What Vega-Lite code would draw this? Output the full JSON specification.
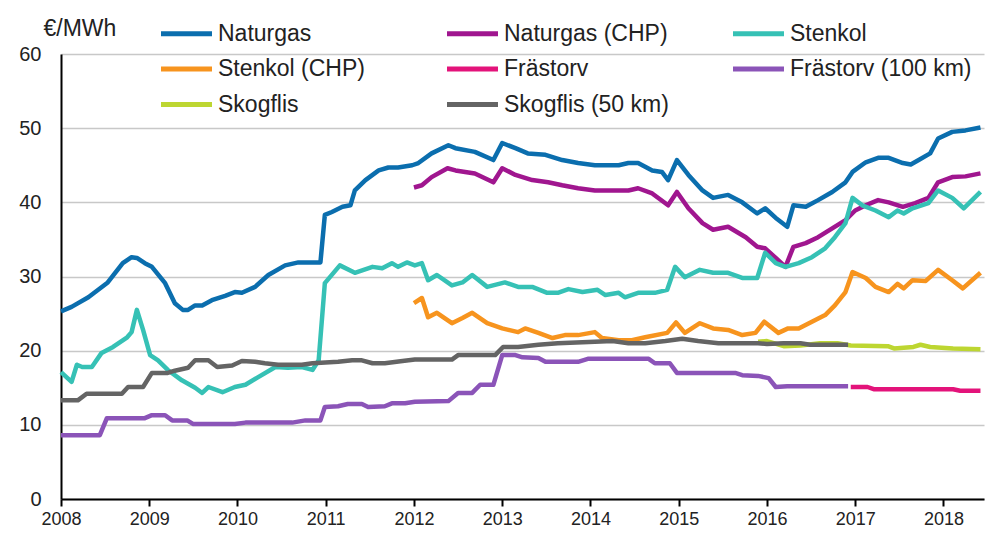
{
"$schema": "https://vega.github.io/schema/vega-lite/v6.json",
"width": 923, "height": 445,
"autosize": {"type": "none"},
"padding": {"left": 61, "top": 54, "right": 2, "bottom": 35},
"background": "white",
"config": {"view": {"stroke": null}, "font": "Liberation Sans"},
"data": {"values": [
{"s":"Naturgas","t":2008.0,"v":25.3},{"s":"Naturgas","t":2008.12,"v":25.9},{"s":"Naturgas","t":2008.31,"v":27.2},{"s":"Naturgas","t":2008.53,"v":29.2},{"s":"Naturgas","t":2008.7,"v":31.8},{"s":"Naturgas","t":2008.8,"v":32.6},{"s":"Naturgas","t":2008.86,"v":32.5},{"s":"Naturgas","t":2008.95,"v":31.8},{"s":"Naturgas","t":2009.03,"v":31.3},{"s":"Naturgas","t":2009.18,"v":29.1},{"s":"Naturgas","t":2009.29,"v":26.4},{"s":"Naturgas","t":2009.38,"v":25.5},{"s":"Naturgas","t":2009.44,"v":25.5},{"s":"Naturgas","t":2009.52,"v":26.1},{"s":"Naturgas","t":2009.6,"v":26.1},{"s":"Naturgas","t":2009.71,"v":26.8},{"s":"Naturgas","t":2009.86,"v":27.4},{"s":"Naturgas","t":2009.97,"v":27.9},{"s":"Naturgas","t":2010.05,"v":27.8},{"s":"Naturgas","t":2010.2,"v":28.6},{"s":"Naturgas","t":2010.35,"v":30.2},{"s":"Naturgas","t":2010.54,"v":31.5},{"s":"Naturgas","t":2010.69,"v":31.9},{"s":"Naturgas","t":2010.94,"v":31.9},{"s":"Naturgas","t":2010.99,"v":38.3},{"s":"Naturgas","t":2011.07,"v":38.7},{"s":"Naturgas","t":2011.19,"v":39.4},{"s":"Naturgas","t":2011.28,"v":39.6},{"s":"Naturgas","t":2011.33,"v":41.6},{"s":"Naturgas","t":2011.45,"v":43.0},{"s":"Naturgas","t":2011.6,"v":44.3},{"s":"Naturgas","t":2011.71,"v":44.7},{"s":"Naturgas","t":2011.82,"v":44.7},{"s":"Naturgas","t":2011.98,"v":45.0},{"s":"Naturgas","t":2012.05,"v":45.3},{"s":"Naturgas","t":2012.2,"v":46.6},{"s":"Naturgas","t":2012.39,"v":47.7},{"s":"Naturgas","t":2012.47,"v":47.3},{"s":"Naturgas","t":2012.69,"v":46.8},{"s":"Naturgas","t":2012.9,"v":45.7},{"s":"Naturgas","t":2013.0,"v":48.0},{"s":"Naturgas","t":2013.15,"v":47.3},{"s":"Naturgas","t":2013.29,"v":46.6},{"s":"Naturgas","t":2013.49,"v":46.4},{"s":"Naturgas","t":2013.68,"v":45.7},{"s":"Naturgas","t":2013.86,"v":45.3},{"s":"Naturgas","t":2014.05,"v":45.0},{"s":"Naturgas","t":2014.32,"v":45.0},{"s":"Naturgas","t":2014.43,"v":45.3},{"s":"Naturgas","t":2014.54,"v":45.3},{"s":"Naturgas","t":2014.7,"v":44.3},{"s":"Naturgas","t":2014.81,"v":44.1},{"s":"Naturgas","t":2014.88,"v":43.0},{"s":"Naturgas","t":2014.98,"v":45.7},{"s":"Naturgas","t":2015.11,"v":43.7},{"s":"Naturgas","t":2015.27,"v":41.6},{"s":"Naturgas","t":2015.39,"v":40.6},{"s":"Naturgas","t":2015.56,"v":41.0},{"s":"Naturgas","t":2015.72,"v":40.0},{"s":"Naturgas","t":2015.89,"v":38.5},{"s":"Naturgas","t":2015.98,"v":39.2},{"s":"Naturgas","t":2016.1,"v":37.9},{"s":"Naturgas","t":2016.23,"v":36.7},{"s":"Naturgas","t":2016.3,"v":39.6},{"s":"Naturgas","t":2016.44,"v":39.4},{"s":"Naturgas","t":2016.58,"v":40.3},{"s":"Naturgas","t":2016.74,"v":41.4},{"s":"Naturgas","t":2016.89,"v":42.7},{"s":"Naturgas","t":2016.97,"v":44.1},{"s":"Naturgas","t":2017.12,"v":45.4},{"s":"Naturgas","t":2017.26,"v":46.0},{"s":"Naturgas","t":2017.38,"v":46.0},{"s":"Naturgas","t":2017.54,"v":45.3},{"s":"Naturgas","t":2017.63,"v":45.1},{"s":"Naturgas","t":2017.72,"v":45.7},{"s":"Naturgas","t":2017.85,"v":46.6},{"s":"Naturgas","t":2017.94,"v":48.6},{"s":"Naturgas","t":2018.1,"v":49.5},{"s":"Naturgas","t":2018.25,"v":49.7},{"s":"Naturgas","t":2018.42,"v":50.1},
{"s":"Naturgas (CHP)","t":2012.0,"v":42.0},{"s":"Naturgas (CHP)","t":2012.09,"v":42.3},{"s":"Naturgas (CHP)","t":2012.2,"v":43.4},{"s":"Naturgas (CHP)","t":2012.38,"v":44.6},{"s":"Naturgas (CHP)","t":2012.47,"v":44.3},{"s":"Naturgas (CHP)","t":2012.69,"v":43.9},{"s":"Naturgas (CHP)","t":2012.9,"v":42.7},{"s":"Naturgas (CHP)","t":2013.0,"v":44.6},{"s":"Naturgas (CHP)","t":2013.15,"v":43.7},{"s":"Naturgas (CHP)","t":2013.34,"v":43.0},{"s":"Naturgas (CHP)","t":2013.52,"v":42.7},{"s":"Naturgas (CHP)","t":2013.68,"v":42.3},{"s":"Naturgas (CHP)","t":2013.86,"v":41.9},{"s":"Naturgas (CHP)","t":2014.05,"v":41.6},{"s":"Naturgas (CHP)","t":2014.43,"v":41.6},{"s":"Naturgas (CHP)","t":2014.54,"v":41.9},{"s":"Naturgas (CHP)","t":2014.7,"v":41.2},{"s":"Naturgas (CHP)","t":2014.88,"v":39.6},{"s":"Naturgas (CHP)","t":2014.98,"v":41.4},{"s":"Naturgas (CHP)","t":2015.11,"v":39.2},{"s":"Naturgas (CHP)","t":2015.27,"v":37.2},{"s":"Naturgas (CHP)","t":2015.39,"v":36.3},{"s":"Naturgas (CHP)","t":2015.56,"v":36.7},{"s":"Naturgas (CHP)","t":2015.76,"v":35.3},{"s":"Naturgas (CHP)","t":2015.89,"v":34.0},{"s":"Naturgas (CHP)","t":2015.98,"v":33.8},{"s":"Naturgas (CHP)","t":2016.1,"v":32.5},{"s":"Naturgas (CHP)","t":2016.21,"v":31.3},{"s":"Naturgas (CHP)","t":2016.3,"v":34.0},{"s":"Naturgas (CHP)","t":2016.44,"v":34.5},{"s":"Naturgas (CHP)","t":2016.58,"v":35.3},{"s":"Naturgas (CHP)","t":2016.74,"v":36.5},{"s":"Naturgas (CHP)","t":2016.89,"v":37.6},{"s":"Naturgas (CHP)","t":2017.0,"v":38.9},{"s":"Naturgas (CHP)","t":2017.12,"v":39.6},{"s":"Naturgas (CHP)","t":2017.26,"v":40.3},{"s":"Naturgas (CHP)","t":2017.38,"v":40.0},{"s":"Naturgas (CHP)","t":2017.54,"v":39.4},{"s":"Naturgas (CHP)","t":2017.68,"v":39.9},{"s":"Naturgas (CHP)","t":2017.83,"v":40.6},{"s":"Naturgas (CHP)","t":2017.94,"v":42.7},{"s":"Naturgas (CHP)","t":2018.1,"v":43.4},{"s":"Naturgas (CHP)","t":2018.25,"v":43.5},{"s":"Naturgas (CHP)","t":2018.42,"v":43.9},
{"s":"Stenkol","t":2008.0,"v":17.1},{"s":"Stenkol","t":2008.12,"v":15.8},{"s":"Stenkol","t":2008.18,"v":18.1},{"s":"Stenkol","t":2008.24,"v":17.8},{"s":"Stenkol","t":2008.35,"v":17.8},{"s":"Stenkol","t":2008.46,"v":19.7},{"s":"Stenkol","t":2008.59,"v":20.5},{"s":"Stenkol","t":2008.75,"v":21.8},{"s":"Stenkol","t":2008.8,"v":22.5},{"s":"Stenkol","t":2008.86,"v":25.5},{"s":"Stenkol","t":2008.93,"v":22.8},{"s":"Stenkol","t":2009.01,"v":19.4},{"s":"Stenkol","t":2009.1,"v":18.7},{"s":"Stenkol","t":2009.21,"v":17.4},{"s":"Stenkol","t":2009.37,"v":16.0},{"s":"Stenkol","t":2009.52,"v":15.0},{"s":"Stenkol","t":2009.6,"v":14.3},{"s":"Stenkol","t":2009.67,"v":15.1},{"s":"Stenkol","t":2009.83,"v":14.4},{"s":"Stenkol","t":2009.97,"v":15.1},{"s":"Stenkol","t":2010.09,"v":15.4},{"s":"Stenkol","t":2010.23,"v":16.4},{"s":"Stenkol","t":2010.43,"v":17.8},{"s":"Stenkol","t":2010.57,"v":17.7},{"s":"Stenkol","t":2010.73,"v":17.8},{"s":"Stenkol","t":2010.85,"v":17.4},{"s":"Stenkol","t":2010.92,"v":18.7},{"s":"Stenkol","t":2010.99,"v":29.1},{"s":"Stenkol","t":2011.16,"v":31.5},{"s":"Stenkol","t":2011.33,"v":30.5},{"s":"Stenkol","t":2011.53,"v":31.3},{"s":"Stenkol","t":2011.64,"v":31.1},{"s":"Stenkol","t":2011.75,"v":31.8},{"s":"Stenkol","t":2011.82,"v":31.3},{"s":"Stenkol","t":2011.92,"v":31.9},{"s":"Stenkol","t":2012.01,"v":31.5},{"s":"Stenkol","t":2012.09,"v":31.8},{"s":"Stenkol","t":2012.16,"v":29.5},{"s":"Stenkol","t":2012.26,"v":30.2},{"s":"Stenkol","t":2012.43,"v":28.8},{"s":"Stenkol","t":2012.55,"v":29.2},{"s":"Stenkol","t":2012.66,"v":30.2},{"s":"Stenkol","t":2012.83,"v":28.6},{"s":"Stenkol","t":2013.03,"v":29.2},{"s":"Stenkol","t":2013.18,"v":28.6},{"s":"Stenkol","t":2013.34,"v":28.6},{"s":"Stenkol","t":2013.51,"v":27.8},{"s":"Stenkol","t":2013.63,"v":27.8},{"s":"Stenkol","t":2013.75,"v":28.3},{"s":"Stenkol","t":2013.91,"v":27.9},{"s":"Stenkol","t":2014.08,"v":28.2},{"s":"Stenkol","t":2014.17,"v":27.5},{"s":"Stenkol","t":2014.32,"v":27.8},{"s":"Stenkol","t":2014.39,"v":27.2},{"s":"Stenkol","t":2014.54,"v":27.8},{"s":"Stenkol","t":2014.73,"v":27.8},{"s":"Stenkol","t":2014.87,"v":28.2},{"s":"Stenkol","t":2014.96,"v":31.3},{"s":"Stenkol","t":2015.07,"v":29.9},{"s":"Stenkol","t":2015.24,"v":30.9},{"s":"Stenkol","t":2015.39,"v":30.5},{"s":"Stenkol","t":2015.56,"v":30.5},{"s":"Stenkol","t":2015.72,"v":29.8},{"s":"Stenkol","t":2015.89,"v":29.8},{"s":"Stenkol","t":2015.98,"v":33.2},{"s":"Stenkol","t":2016.1,"v":31.8},{"s":"Stenkol","t":2016.21,"v":31.3},{"s":"Stenkol","t":2016.36,"v":31.8},{"s":"Stenkol","t":2016.51,"v":32.6},{"s":"Stenkol","t":2016.66,"v":33.8},{"s":"Stenkol","t":2016.77,"v":35.3},{"s":"Stenkol","t":2016.89,"v":37.2},{"s":"Stenkol","t":2016.97,"v":40.6},{"s":"Stenkol","t":2017.08,"v":39.6},{"s":"Stenkol","t":2017.23,"v":38.9},{"s":"Stenkol","t":2017.38,"v":38.0},{"s":"Stenkol","t":2017.48,"v":38.9},{"s":"Stenkol","t":2017.55,"v":38.5},{"s":"Stenkol","t":2017.65,"v":39.2},{"s":"Stenkol","t":2017.83,"v":39.9},{"s":"Stenkol","t":2017.94,"v":41.6},{"s":"Stenkol","t":2018.1,"v":40.6},{"s":"Stenkol","t":2018.23,"v":39.2},{"s":"Stenkol","t":2018.42,"v":41.4},
{"s":"Stenkol (CHP)","t":2012.0,"v":26.4},{"s":"Stenkol (CHP)","t":2012.09,"v":27.1},{"s":"Stenkol (CHP)","t":2012.16,"v":24.5},{"s":"Stenkol (CHP)","t":2012.26,"v":25.1},{"s":"Stenkol (CHP)","t":2012.43,"v":23.7},{"s":"Stenkol (CHP)","t":2012.55,"v":24.4},{"s":"Stenkol (CHP)","t":2012.66,"v":25.1},{"s":"Stenkol (CHP)","t":2012.83,"v":23.7},{"s":"Stenkol (CHP)","t":2013.0,"v":23.0},{"s":"Stenkol (CHP)","t":2013.18,"v":22.5},{"s":"Stenkol (CHP)","t":2013.26,"v":23.0},{"s":"Stenkol (CHP)","t":2013.41,"v":22.4},{"s":"Stenkol (CHP)","t":2013.57,"v":21.7},{"s":"Stenkol (CHP)","t":2013.71,"v":22.1},{"s":"Stenkol (CHP)","t":2013.86,"v":22.1},{"s":"Stenkol (CHP)","t":2014.05,"v":22.5},{"s":"Stenkol (CHP)","t":2014.13,"v":21.7},{"s":"Stenkol (CHP)","t":2014.32,"v":21.4},{"s":"Stenkol (CHP)","t":2014.47,"v":21.4},{"s":"Stenkol (CHP)","t":2014.62,"v":21.8},{"s":"Stenkol (CHP)","t":2014.87,"v":22.4},{"s":"Stenkol (CHP)","t":2014.97,"v":23.8},{"s":"Stenkol (CHP)","t":2015.07,"v":22.4},{"s":"Stenkol (CHP)","t":2015.24,"v":23.7},{"s":"Stenkol (CHP)","t":2015.39,"v":23.0},{"s":"Stenkol (CHP)","t":2015.56,"v":22.8},{"s":"Stenkol (CHP)","t":2015.72,"v":22.1},{"s":"Stenkol (CHP)","t":2015.87,"v":22.4},{"s":"Stenkol (CHP)","t":2015.97,"v":23.9},{"s":"Stenkol (CHP)","t":2016.13,"v":22.4},{"s":"Stenkol (CHP)","t":2016.24,"v":23.0},{"s":"Stenkol (CHP)","t":2016.36,"v":23.0},{"s":"Stenkol (CHP)","t":2016.51,"v":23.9},{"s":"Stenkol (CHP)","t":2016.66,"v":24.8},{"s":"Stenkol (CHP)","t":2016.77,"v":26.1},{"s":"Stenkol (CHP)","t":2016.89,"v":27.9},{"s":"Stenkol (CHP)","t":2016.97,"v":30.6},{"s":"Stenkol (CHP)","t":2017.12,"v":29.8},{"s":"Stenkol (CHP)","t":2017.23,"v":28.6},{"s":"Stenkol (CHP)","t":2017.38,"v":27.9},{"s":"Stenkol (CHP)","t":2017.48,"v":29.0},{"s":"Stenkol (CHP)","t":2017.55,"v":28.4},{"s":"Stenkol (CHP)","t":2017.65,"v":29.5},{"s":"Stenkol (CHP)","t":2017.8,"v":29.4},{"s":"Stenkol (CHP)","t":2017.94,"v":30.9},{"s":"Stenkol (CHP)","t":2018.1,"v":29.5},{"s":"Stenkol (CHP)","t":2018.22,"v":28.4},{"s":"Stenkol (CHP)","t":2018.42,"v":30.5},
{"s":"Frästorv (100 km)","t":2008.0,"v":8.6},{"s":"Frästorv (100 km)","t":2008.44,"v":8.6},{"s":"Frästorv (100 km)","t":2008.52,"v":10.9},{"s":"Frästorv (100 km)","t":2008.95,"v":10.9},{"s":"Frästorv (100 km)","t":2009.03,"v":11.3},{"s":"Frästorv (100 km)","t":2009.18,"v":11.3},{"s":"Frästorv (100 km)","t":2009.26,"v":10.6},{"s":"Frästorv (100 km)","t":2009.43,"v":10.6},{"s":"Frästorv (100 km)","t":2009.5,"v":10.1},{"s":"Frästorv (100 km)","t":2009.97,"v":10.1},{"s":"Frästorv (100 km)","t":2010.09,"v":10.3},{"s":"Frästorv (100 km)","t":2010.62,"v":10.3},{"s":"Frästorv (100 km)","t":2010.77,"v":10.6},{"s":"Frästorv (100 km)","t":2010.94,"v":10.6},{"s":"Frästorv (100 km)","t":2010.99,"v":12.4},{"s":"Frästorv (100 km)","t":2011.14,"v":12.5},{"s":"Frästorv (100 km)","t":2011.25,"v":12.8},{"s":"Frästorv (100 km)","t":2011.41,"v":12.8},{"s":"Frästorv (100 km)","t":2011.48,"v":12.4},{"s":"Frästorv (100 km)","t":2011.67,"v":12.5},{"s":"Frästorv (100 km)","t":2011.75,"v":12.9},{"s":"Frästorv (100 km)","t":2011.9,"v":12.9},{"s":"Frästorv (100 km)","t":2012.01,"v":13.1},{"s":"Frästorv (100 km)","t":2012.39,"v":13.2},{"s":"Frästorv (100 km)","t":2012.5,"v":14.3},{"s":"Frästorv (100 km)","t":2012.66,"v":14.3},{"s":"Frästorv (100 km)","t":2012.75,"v":15.4},{"s":"Frästorv (100 km)","t":2012.9,"v":15.4},{"s":"Frästorv (100 km)","t":2013.0,"v":19.4},{"s":"Frästorv (100 km)","t":2013.15,"v":19.4},{"s":"Frästorv (100 km)","t":2013.23,"v":19.1},{"s":"Frästorv (100 km)","t":2013.41,"v":19.0},{"s":"Frästorv (100 km)","t":2013.49,"v":18.5},{"s":"Frästorv (100 km)","t":2013.86,"v":18.5},{"s":"Frästorv (100 km)","t":2013.97,"v":18.9},{"s":"Frästorv (100 km)","t":2014.66,"v":18.9},{"s":"Frästorv (100 km)","t":2014.73,"v":18.3},{"s":"Frästorv (100 km)","t":2014.9,"v":18.3},{"s":"Frästorv (100 km)","t":2014.98,"v":17.0},{"s":"Frästorv (100 km)","t":2015.64,"v":17.0},{"s":"Frästorv (100 km)","t":2015.72,"v":16.7},{"s":"Frästorv (100 km)","t":2015.9,"v":16.6},{"s":"Frästorv (100 km)","t":2016.02,"v":16.3},{"s":"Frästorv (100 km)","t":2016.1,"v":15.1},{"s":"Frästorv (100 km)","t":2016.23,"v":15.2},{"s":"Frästorv (100 km)","t":2016.92,"v":15.2},
{"s":"Frästorv","t":2016.95,"v":15.1},{"s":"Frästorv","t":2017.14,"v":15.1},{"s":"Frästorv","t":2017.21,"v":14.8},{"s":"Frästorv","t":2018.11,"v":14.8},{"s":"Frästorv","t":2018.19,"v":14.6},{"s":"Frästorv","t":2018.42,"v":14.6},
{"s":"Skogflis","t":2015.9,"v":21.2},{"s":"Skogflis","t":2016.0,"v":21.3},{"s":"Skogflis","t":2016.19,"v":20.6},{"s":"Skogflis","t":2016.38,"v":20.7},{"s":"Skogflis","t":2016.6,"v":21.0},{"s":"Skogflis","t":2016.8,"v":21.0},{"s":"Skogflis","t":2016.95,"v":20.7},{"s":"Skogflis","t":2017.37,"v":20.6},{"s":"Skogflis","t":2017.44,"v":20.3},{"s":"Skogflis","t":2017.66,"v":20.5},{"s":"Skogflis","t":2017.74,"v":20.8},{"s":"Skogflis","t":2017.85,"v":20.5},{"s":"Skogflis","t":2018.11,"v":20.3},{"s":"Skogflis","t":2018.42,"v":20.2},
{"s":"Skogflis (50 km)","t":2008.0,"v":13.3},{"s":"Skogflis (50 km)","t":2008.19,"v":13.3},{"s":"Skogflis (50 km)","t":2008.29,"v":14.2},{"s":"Skogflis (50 km)","t":2008.69,"v":14.2},{"s":"Skogflis (50 km)","t":2008.76,"v":15.1},{"s":"Skogflis (50 km)","t":2008.93,"v":15.1},{"s":"Skogflis (50 km)","t":2009.03,"v":17.0},{"s":"Skogflis (50 km)","t":2009.21,"v":17.0},{"s":"Skogflis (50 km)","t":2009.29,"v":17.3},{"s":"Skogflis (50 km)","t":2009.44,"v":17.7},{"s":"Skogflis (50 km)","t":2009.52,"v":18.7},{"s":"Skogflis (50 km)","t":2009.67,"v":18.7},{"s":"Skogflis (50 km)","t":2009.77,"v":17.8},{"s":"Skogflis (50 km)","t":2009.94,"v":18.0},{"s":"Skogflis (50 km)","t":2010.05,"v":18.6},{"s":"Skogflis (50 km)","t":2010.2,"v":18.5},{"s":"Skogflis (50 km)","t":2010.31,"v":18.3},{"s":"Skogflis (50 km)","t":2010.46,"v":18.1},{"s":"Skogflis (50 km)","t":2010.73,"v":18.1},{"s":"Skogflis (50 km)","t":2010.85,"v":18.3},{"s":"Skogflis (50 km)","t":2011.14,"v":18.5},{"s":"Skogflis (50 km)","t":2011.3,"v":18.7},{"s":"Skogflis (50 km)","t":2011.41,"v":18.7},{"s":"Skogflis (50 km)","t":2011.53,"v":18.3},{"s":"Skogflis (50 km)","t":2011.67,"v":18.3},{"s":"Skogflis (50 km)","t":2011.87,"v":18.6},{"s":"Skogflis (50 km)","t":2012.01,"v":18.8},{"s":"Skogflis (50 km)","t":2012.43,"v":18.8},{"s":"Skogflis (50 km)","t":2012.5,"v":19.4},{"s":"Skogflis (50 km)","t":2012.92,"v":19.4},{"s":"Skogflis (50 km)","t":2013.01,"v":20.5},{"s":"Skogflis (50 km)","t":2013.18,"v":20.5},{"s":"Skogflis (50 km)","t":2013.41,"v":20.8},{"s":"Skogflis (50 km)","t":2013.63,"v":21.0},{"s":"Skogflis (50 km)","t":2014.05,"v":21.2},{"s":"Skogflis (50 km)","t":2014.25,"v":21.3},{"s":"Skogflis (50 km)","t":2014.43,"v":21.0},{"s":"Skogflis (50 km)","t":2014.62,"v":21.0},{"s":"Skogflis (50 km)","t":2014.85,"v":21.3},{"s":"Skogflis (50 km)","t":2015.04,"v":21.6},{"s":"Skogflis (50 km)","t":2015.22,"v":21.3},{"s":"Skogflis (50 km)","t":2015.45,"v":21.0},{"s":"Skogflis (50 km)","t":2015.9,"v":21.0},{"s":"Skogflis (50 km)","t":2016.0,"v":20.9},{"s":"Skogflis (50 km)","t":2016.19,"v":21.0},{"s":"Skogflis (50 km)","t":2016.38,"v":21.0},{"s":"Skogflis (50 km)","t":2016.49,"v":20.8},{"s":"Skogflis (50 km)","t":2016.92,"v":20.8}
]},
"mark": {"type": "line", "strokeWidth": 4.5, "strokeJoin": "round"},
"encoding": {
  "x": {"field": "t", "type": "quantitative",
    "scale": {"domain": [2008, 2018.46], "nice": false, "zero": false},
    "axis": {"values": [2008,2009,2010,2011,2012,2013,2014,2015,2016,2017,2018], "format": "d", "title": null, "grid": false,
      "domainColor": "black", "domainWidth": 2, "tickColor": "black", "tickWidth": 2, "tickSize": 7,
      "labelFontSize": 18, "labelColor": "#222222", "labelPadding": 4, "labelFlush": false}},
  "y": {"field": "v", "type": "quantitative",
    "scale": {"domain": [0, 60], "nice": false},
    "axis": {"values": [0,10,20,30,40,50,60], "title": "€/MWh", "titleAngle": 0, "titleAlign": "left", "titleBaseline": "alphabetic",
      "titleX": -18, "titleY": -19, "titleFontSize": 23, "titleFontWeight": "normal", "titleColor": "#222222",
      "grid": true, "gridColor": "#c8c8c8", "gridWidth": 1.5, "ticks": false, "labelPadding": 20,
      "labelFontSize": 20, "labelColor": "#222222", "domainColor": "black", "domainWidth": 2}},
  "color": {"field": "s", "type": "nominal",
    "scale": {"domain": ["Naturgas","Naturgas (CHP)","Stenkol","Stenkol (CHP)","Frästorv","Frästorv (100 km)","Skogflis","Skogflis (50 km)"],
      "range": ["#0b6eae","#a0168f","#36c1b5","#f7941e","#e3137a","#8b54b8","#bdd631","#646464"]},
    "legend": {"orient": "none", "legendX": 110, "legendY": -36, "columns": 3, "direction": "horizontal", "title": null,
      "symbolType": "M-2,0L2,0", "symbolSize": 650, "symbolStrokeWidth": 5,
      "labelFontSize": 23, "labelColor": "#222222", "labelOffset": 16, "labelLimit": 400,
      "columnPadding": 37, "rowPadding": 7.5, "gridAlign": "all", "padding": 0}}
}
}
